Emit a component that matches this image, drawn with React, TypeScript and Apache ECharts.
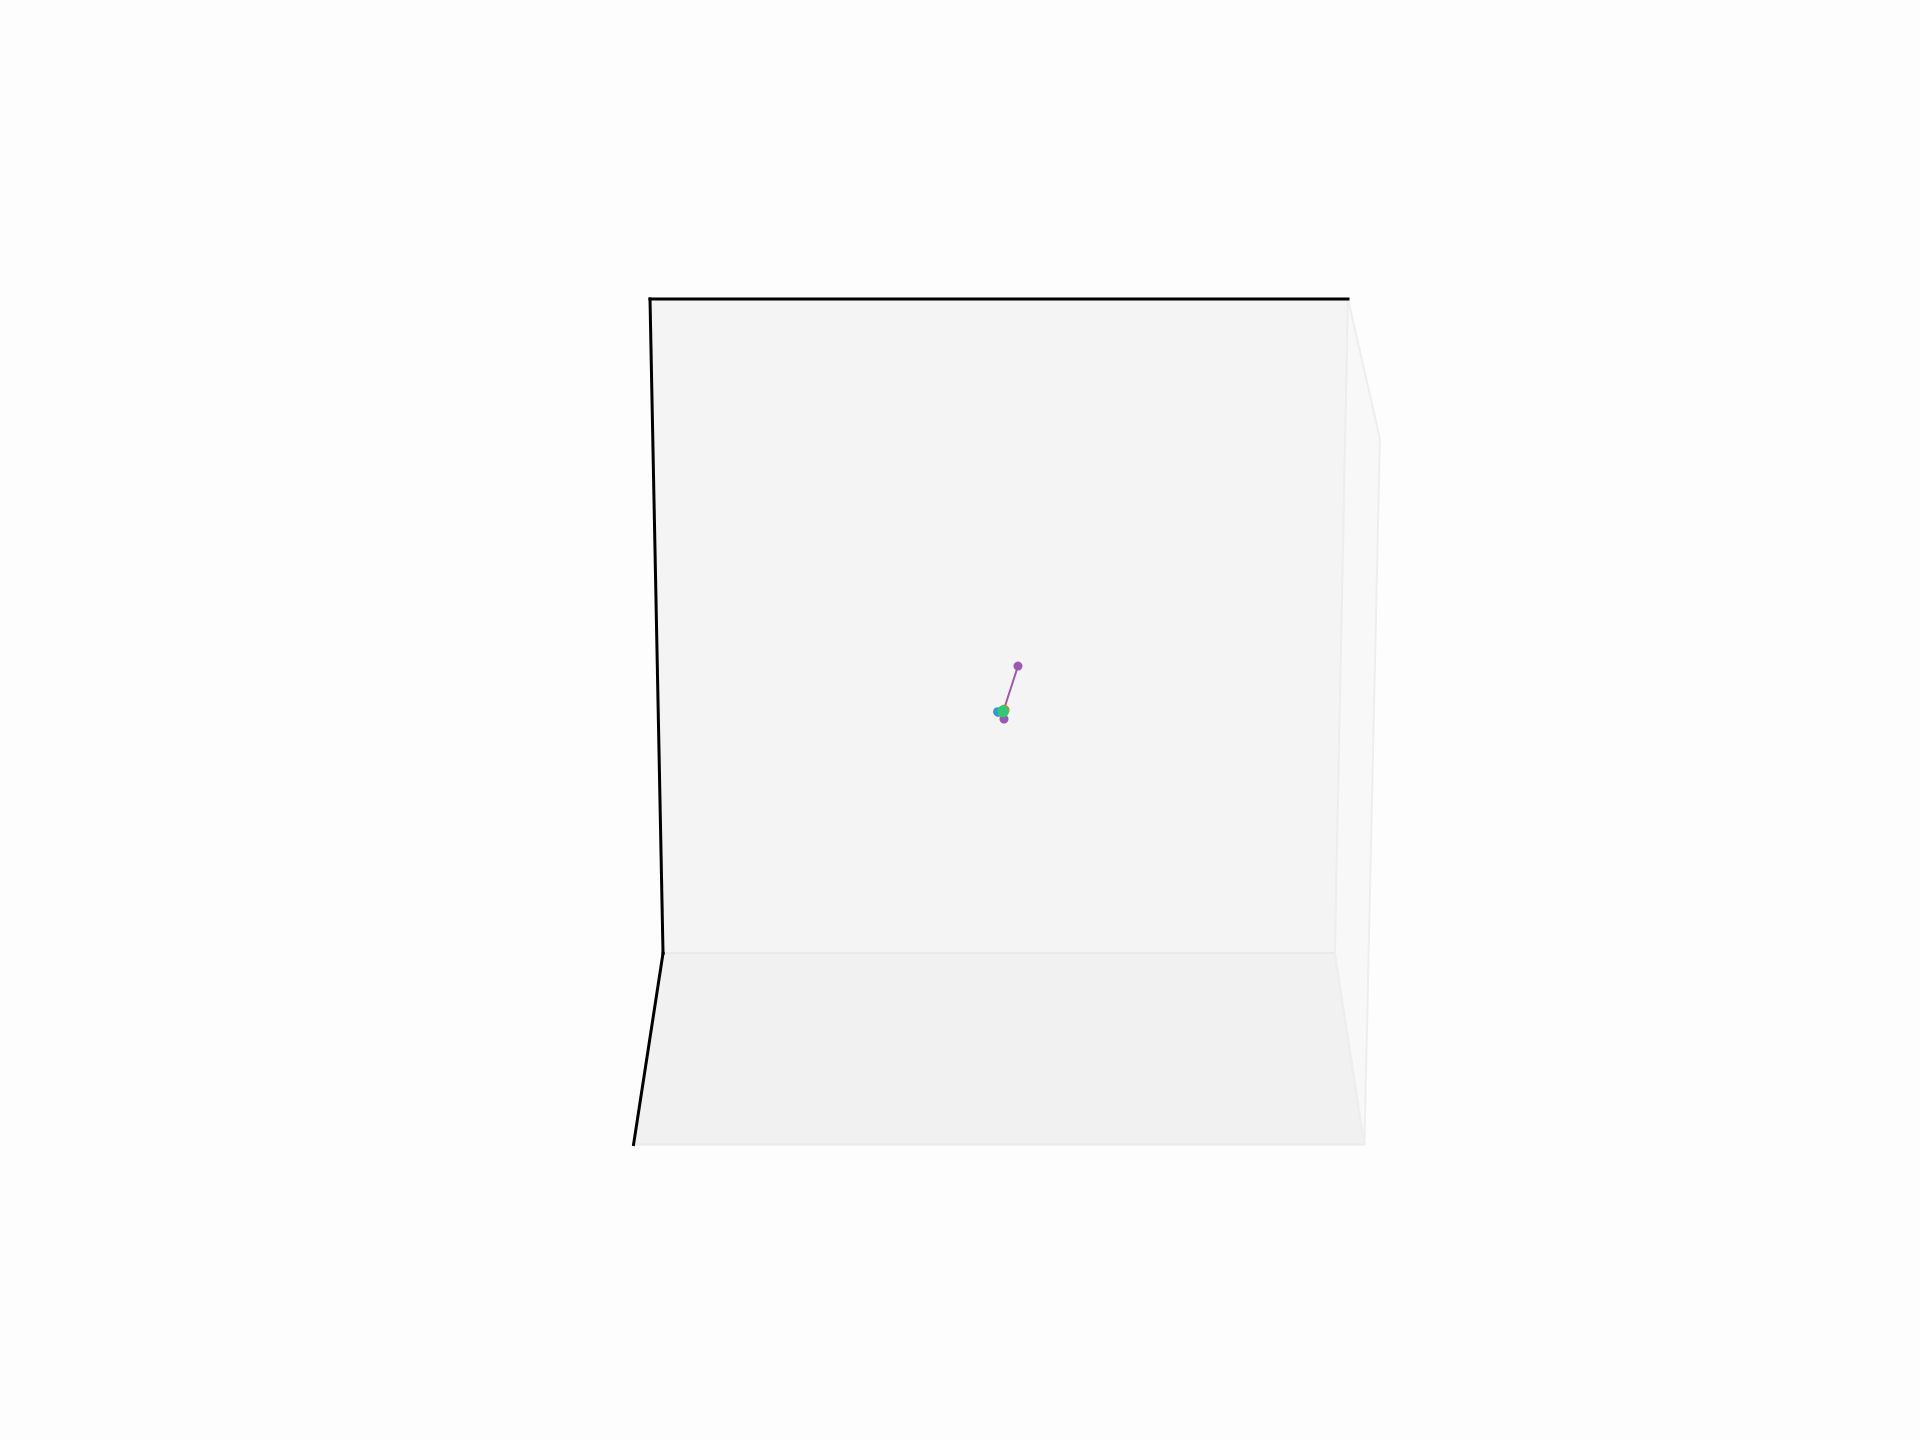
import React, { useEffect, useRef } from "react";
import * as echarts from "echarts";

// ---- data (3D, in axis data units) ----
const X_LIM = [-10, 10];
const Y_LIM = [-10, 10];
const Z_LIM = [-10, 10];

const seriesNames = ["Series A", "Series B", "Series C", "Series D"];
const seriesColors = ["#9b59b6", "#3498db", "#e67e22", "#2ecc71"];
const purpleX = [0.53, 0.14, 0.14];
const purpleY = [0, 0, 0];
const purpleZ = [1.35, 0.08, -0.21];
const blueX = [-0.04, -0.02];
const blueY = [0, 0];
const blueZ = [0.01, -0.01];
const orangeX = [0.15, 0.17];
const orangeY = [0, 0];
const orangeZ = [0.08, 0.06];
const greenX = [0.11, 0.12];
const greenY = [0, 0];
const greenZ = [0.03, 0.01];

// ---- camera / box geometry ----
const ELEV = (18.6 * Math.PI) / 180;
const DIST = 16.15;
const HALF = [1, 0.73, 1.003]; // box half extents (x, y, z)
const FOCAL = 5766;
const CX = 999;
const CY = 712;
const W = 1920;
const H = 1440;

const norm = (v: number, lim: number[], h: number) =>
  ((v - (lim[0] + lim[1]) / 2) / ((lim[1] - lim[0]) / 2)) * h;

function project(x: number, y: number, z: number): [number, number] {
  const X = norm(x, X_LIM, HALF[0]);
  const Y = norm(y, Y_LIM, HALF[1]);
  const Z = norm(z, Z_LIM, HALF[2]);
  const s = Math.sin(ELEV);
  const c = Math.cos(ELEV);
  const D = DIST + Y * c - Z * s;
  return [X / D, (Y * s + Z * c) / D];
}

const toLine = (xs: number[], ys: number[], zs: number[]) =>
  xs.map((x, i) => project(x, ys[i], zs[i]));

const [x0, x1] = X_LIM;
const [y0, y1] = Y_LIM;
const [z0, z1] = Z_LIM;

const panes = [
  { name: "back", fill: "#f4f4f4", stroke: "#ececec", pts: [[x0, y1, z1], [x1, y1, z1], [x1, y1, z0], [x0, y1, z0]] },
  { name: "floor", fill: "#f1f1f1", stroke: "#e9e9e9", pts: [[x0, y1, z0], [x1, y1, z0], [x1, y0, z0], [x0, y0, z0]] },
  { name: "right", fill: "#f8f8f8", stroke: "#eeeeee", pts: [[x1, y1, z1], [x1, y0, z1], [x1, y0, z0], [x1, y1, z0]] },
];

const axisLines = [
  [[x0, y1, z1], [x1, y1, z1]],
  [[x0, y1, z1], [x0, y1, z0]],
  [[x0, y1, z0], [x0, y0, z0]],
];

export default function App() {
  const ref = useRef<HTMLDivElement>(null);
  useEffect(() => {
    if (!ref.current) return;
    const chart = echarts.init(ref.current, undefined, { renderer: "svg" });
    const lines = [
      toLine(purpleX, purpleY, purpleZ),
      toLine(blueX, blueY, blueZ),
      toLine(orangeX, orangeY, orangeZ),
      toLine(greenX, greenY, greenZ),
    ];
    const sizes = [9, 9, 9, 11];
    chart.setOption({
      animation: false,
      backgroundColor: "#fdfdfd",
      grid: { left: 0, right: 0, top: 0, bottom: 0 },
      xAxis: { type: "value", min: -CX / FOCAL, max: (W - CX) / FOCAL, show: false },
      yAxis: { type: "value", min: (CY - H) / FOCAL, max: CY / FOCAL, show: false },
      series: [
        {
          type: "custom",
          name: "panes",
          silent: true,
          z: 1,
          data: panes.map((_, i) => [i]),
          renderItem: (params: any, api: any) => {
            const p = panes[params.dataIndex];
            const points = p.pts.map((q) => api.coord(project(q[0], q[1], q[2])));
            return {
              type: "polygon",
              shape: { points },
              style: { fill: p.fill, stroke: p.stroke, lineWidth: 2 },
            };
          },
        },
        {
          type: "custom",
          name: "axes",
          silent: true,
          z: 2,
          data: axisLines.map((_, i) => [i]),
          renderItem: (params: any, api: any) => {
            const l = axisLines[params.dataIndex];
            const a = api.coord(project(l[0][0], l[0][1], l[0][2]));
            const b = api.coord(project(l[1][0], l[1][1], l[1][2]));
            return {
              type: "line",
              shape: { x1: a[0], y1: a[1], x2: b[0], y2: b[1] },
              style: { stroke: "#000000", lineWidth: 3, lineCap: "square" },
            };
          },
        },
        ...lines.map((d, i) => ({
          type: "line",
          name: seriesNames[i],
          data: d,
          z: 3 + i,
          symbol: "circle",
          symbolSize: sizes[i],
          showSymbol: true,
          itemStyle: { color: seriesColors[i] },
          lineStyle: { color: seriesColors[i], width: 2 },
        })),
      ],
    });
    return () => chart.dispose();
  }, []);
  return (
    <div
      ref={ref}
      style={{ position: "fixed", left: 0, top: 0, width: W, height: H }}
    />
  );
}
